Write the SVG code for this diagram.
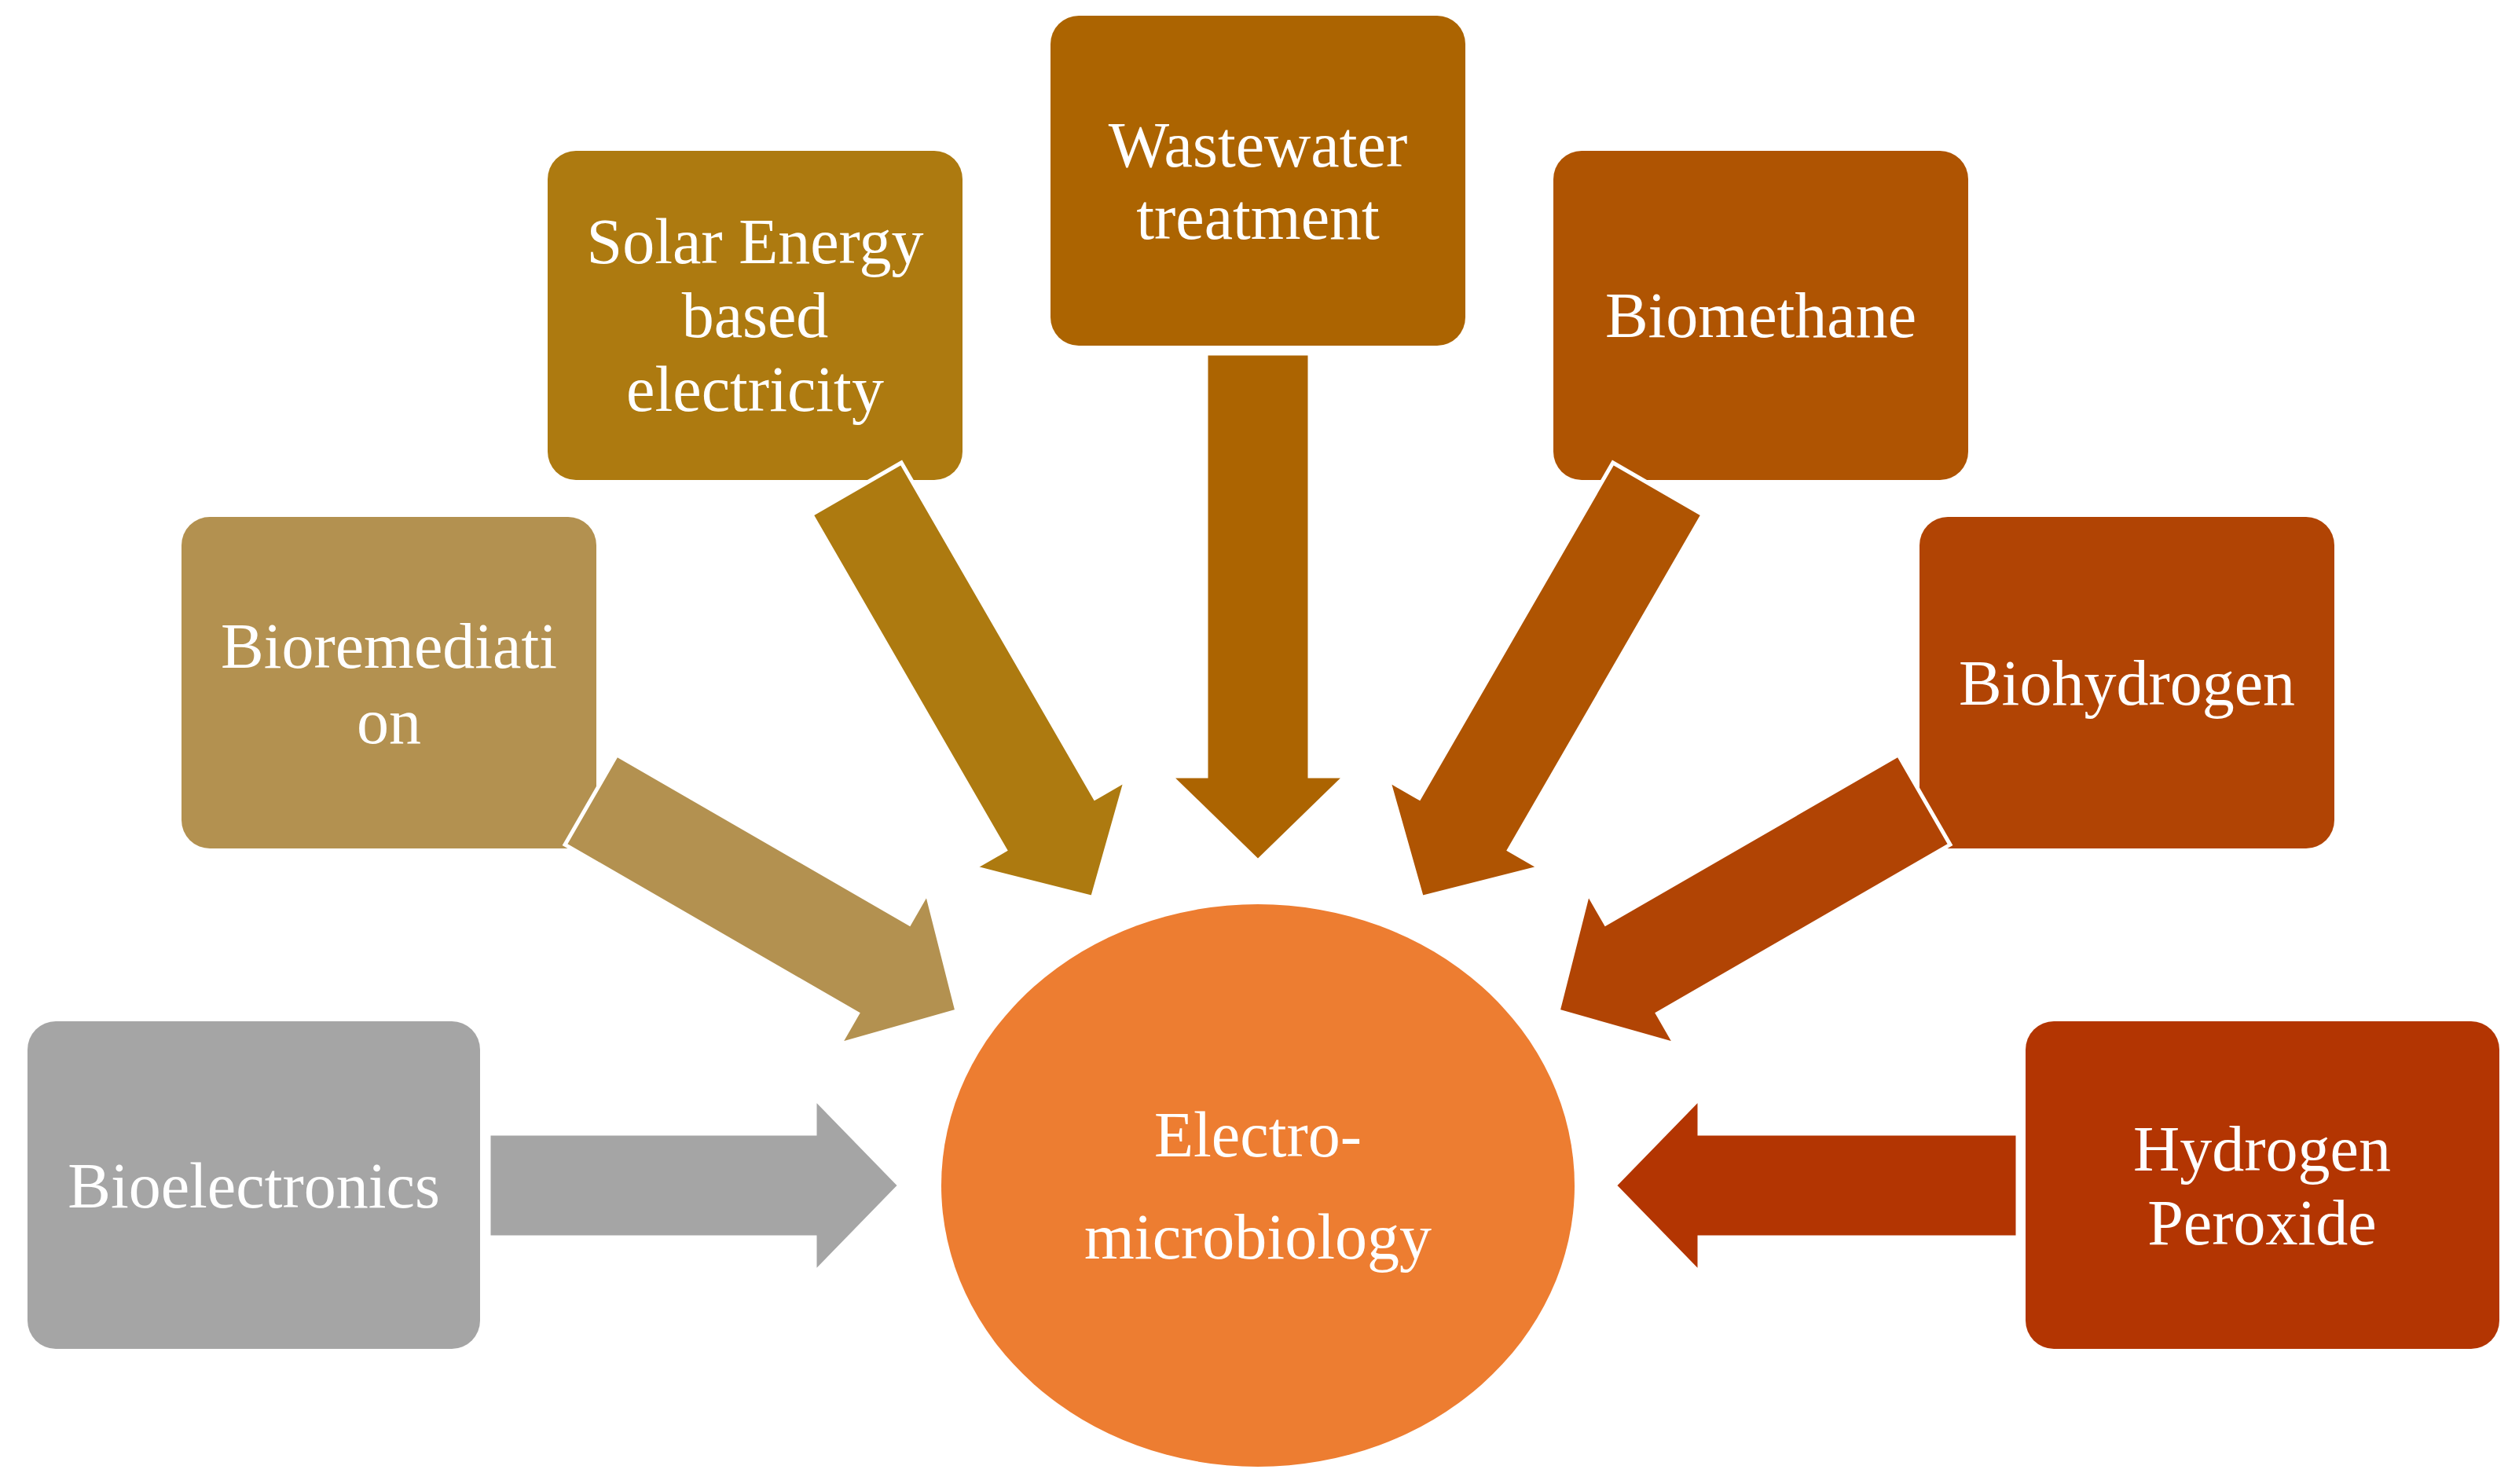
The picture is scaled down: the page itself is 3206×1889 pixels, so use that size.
<svg xmlns="http://www.w3.org/2000/svg" width="3206" height="1889" viewBox="0 0 3206 1889">
<style>
text{font-family:"Liberation Serif","Times New Roman",serif;font-size:82px;fill:#fff;text-anchor:middle;dominant-baseline:central}
.a{stroke:#fff;stroke-width:5}
</style>
<rect width="3206" height="1889" fill="#fff"/>
<g id="bioelectronics"><rect x="35" y="1300" width="576" height="417" rx="36" fill="#A5A5A5"/><text x="323" y="1509">Bioelectronics</text></g>
<g id="bioremediation"><rect x="231" y="658" width="528" height="422" rx="36" fill="#B39150"/><text x="495" y="822">Bioremediati</text><text x="495" y="918">on</text></g>
<g id="solar"><rect x="697" y="192" width="528" height="419" rx="36" fill="#AD7A10"/><text x="961" y="307">Solar Energy</text><text x="961" y="401">based</text><text x="961" y="495">electricity</text></g>
<g id="wastewater"><rect x="1337" y="20" width="528" height="420" rx="36" fill="#AC6401"/><text x="1601" y="184">Wastewater</text><text x="1601" y="276">treatment</text></g>
<g id="biomethane"><rect x="1977" y="192" width="528" height="419" rx="36" fill="#AF5402"/><text x="2241" y="401">Biomethane</text></g>
<g id="biohydrogen"><rect x="2443" y="658" width="528" height="422" rx="36" fill="#B14404"/><text x="2707" y="869">Biohydrogen</text></g>
<g id="peroxide"><rect x="2578" y="1300" width="603" height="417" rx="36" fill="#B33502"/><text x="2879" y="1462">Hydrogen</text><text x="2879" y="1556">Peroxide</text></g>
<g id="connectors">
<path class="a" fill="#A5A5A5" transform="translate(622,1509) rotate(-90)" d="M-66,0 H66 V415 H111 L0,523 L-111,415 H-66 Z"/>
<path class="a" fill="#B39150" transform="translate(752,1018) rotate(-60)" d="M-66,0 H66 V430 H111 L0,538 L-111,430 H-66 Z"/>
<path class="a" fill="#AD7A10" transform="translate(1090,622) rotate(-30)" d="M-66,0 H66 V493 H111 L0,601 L-111,493 H-66 Z"/>
<path class="a" fill="#AC6401" transform="translate(1601,450)" d="M-66,0 H66 V538 H111 L0,646 L-111,538 H-66 Z"/>
<path class="a" fill="#AF5402" transform="translate(2110,622) rotate(30)" d="M-66,0 H66 V493 H111 L0,601 L-111,493 H-66 Z"/>
<path class="a" fill="#B14404" transform="translate(2449,1018) rotate(60)" d="M-66,0 H66 V430 H111 L0,538 L-111,430 H-66 Z"/>
<path class="a" fill="#B33502" transform="translate(2568,1509) rotate(90)" d="M-66,0 H66 V405 H111 L0,513 L-111,405 H-66 Z"/>
</g>
<g id="center"><ellipse cx="1601" cy="1509" rx="403" ry="358" fill="#ED7D31"/><text x="1601" y="1444">Electro-</text><text x="1601" y="1574">microbiology</text></g>
</svg>
